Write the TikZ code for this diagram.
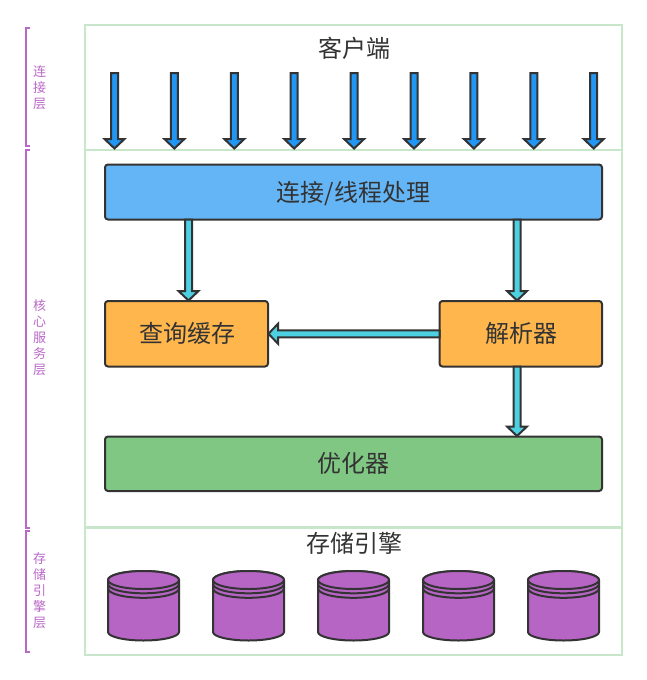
\documentclass[tikz,border=0pt]{standalone}
\usepackage{fontspec}
\setmainfont{Noto Sans CJK SC}
\usetikzlibrary{calc}
\definecolor{ink}{HTML}{333333}
\definecolor{framegreen}{HTML}{C8E6C9}
\definecolor{sidepurple}{HTML}{BA68C8}
\definecolor{cylpurple}{HTML}{B765C5}
\definecolor{arrowblue}{HTML}{2196F3}
\definecolor{arrowteal}{HTML}{4DD0E1}
\definecolor{boxblue}{HTML}{64B5F6}
\definecolor{boxorange}{HTML}{FFB74D}
\definecolor{boxgreen}{HTML}{81C784}
\newcommand{\boxtext}[1]{\raisebox{-9pt}[0pt][0pt]{#1}}
\tikzset{
  x=1pt,y=-1pt,
  layerframe/.style={draw=framegreen,line width=2.3pt,fill=none},
  bracketline/.style={draw=sidepurple,line width=2pt},
  sidelabel/.style={text=sidepurple,font=\fontsize{13}{16}\selectfont,align=center,inner sep=0pt},
  title/.style={text=ink,font=\fontsize{24}{28}\selectfont,inner sep=0pt},
  procbox/.style={draw=ink,line width=2pt,rounded corners=3pt,text=ink,font=\fontsize{24}{28}\selectfont,inner sep=0pt,outer sep=0pt,anchor=north west},
  fatarrow/.style={draw=ink,line width=2pt,miter limit=10,line join=miter},
  cyl/.style={draw=ink,line width=2pt,fill=cylpurple},
}
% \fatarrowline{fill}{start}{tip}
\newcommand{\fatarrowline}[3]{%
  \coordinate (ArB) at ($#3!9.5pt!#2$);
  \draw[fatarrow,fill=#1] ($#2!3.5pt!-90:#3$) -- ($(ArB)!3.5pt!-90:#3$) -- ($(ArB)!10pt!-90:#3$) -- #3 -- ($(ArB)!10pt!90:#3$) -- ($(ArB)!3.5pt!90:#3$) -- ($#2!3.5pt!90:#3$) -- cycle;
}
\newcommand{\dbcyl}[1]{%
  \draw[cyl] (#1-35.5,580) -- (#1-35.5,632) arc[start angle=180,end angle=360,x radius=35.5,y radius=-8.5] -- (#1+35.5,580) arc[start angle=0,end angle=-180,x radius=35.5,y radius=9] -- cycle;
  \draw[cyl] (#1,580) ellipse[x radius=35.5,y radius=9];
  \draw[cyl,fill=none] (#1-35.5,584) arc[start angle=180,end angle=360,x radius=35.5,y radius=-9.3];
  \draw[cyl,fill=none] (#1-35.5,588.5) arc[start angle=180,end angle=360,x radius=35.5,y radius=-9.3];
}
\begin{document}
\begin{tikzpicture}
\useasboundingbox (0,0) rectangle (647,680);
\fill[white] (0,0) rectangle (647,680);
% layer frames
\draw[layerframe] (85,25) rectangle (622,150);
\draw[layerframe] (85,150) rectangle (622,527.5);
\draw[layerframe] (85,527.5) rectangle (622,655);
% side brackets
\draw[bracketline] (30,28) -- (25.5,28) -- (25.5,146) -- (30,146);
\draw[bracketline] (30,149.5) -- (25.5,149.5) -- (25.5,528) -- (30,528);
\draw[bracketline] (30,531) -- (25.5,531) -- (25.5,652) -- (30,652);
\node[sidelabel] (sideA) at (39.5,87.5) {连\\接\\层};
\node[sidelabel] (sideB) at (39.5,338) {核\\心\\服\\务\\层};
\node[sidelabel] (sideC) at (39.5,591) {存\\储\\引\\擎\\层};
% titles
\node[title] (client) at (354,48) {客户端};
\node[title] (storage) at (354,543) {存储引擎};
% boxes
\node[procbox,fill=boxblue,minimum width=497pt,minimum height=55pt] (conn) at (105,164.5) {\boxtext{连接/线程处理}};
\node[procbox,fill=boxorange,minimum width=163pt,minimum height=65.5pt] (cache) at (105,301) {\hspace*{2pt}\boxtext{查询缓存}};
\node[procbox,fill=boxorange,minimum width=162.5pt,minimum height=65.5pt] (parser) at (439.5,301) {\hspace*{2pt}\boxtext{解析器}};
\node[procbox,fill=boxgreen,minimum width=497pt,minimum height=54.5pt] (opt) at (105,436.5) {\boxtext{优化器}};
% client arrows
\foreach \i in {0,...,8}{
  \coordinate (ca) at (114.5+59.9*\i,73);
  \coordinate (cb) at (114.5+59.9*\i,148.5);
  \fatarrowline{arrowblue}{(ca)}{(cb)}
}
% process arrows
\coordinate (a1s) at (conn.south -| 188.5,0);
\coordinate (a1e) at ($(cache.north -| 188.5,0)+(0,-0.5)$);
\fatarrowline{arrowteal}{(a1s)}{(a1e)}
\coordinate (a2s) at (conn.south -| 517,0);
\coordinate (a2e) at ($(parser.north -| 517,0)+(0,-0.5)$);
\fatarrowline{arrowteal}{(a2s)}{(a2e)}
\coordinate (a3s) at (parser.south -| 517,0);
\coordinate (a3e) at ($(opt.north -| 517,0)+(0,-0.5)$);
\fatarrowline{arrowteal}{(a3s)}{(a3e)}
\coordinate (a4s) at (parser.west);
\coordinate (a4e) at ($(cache.east)+(0.5,0)$);
\fatarrowline{arrowteal}{(a4s)}{(a4e)}
% storage cylinders
\foreach \cx in {143.5,248.5,353.5,458.5,563.5}{\dbcyl{\cx}}
\end{tikzpicture}
\end{document}
